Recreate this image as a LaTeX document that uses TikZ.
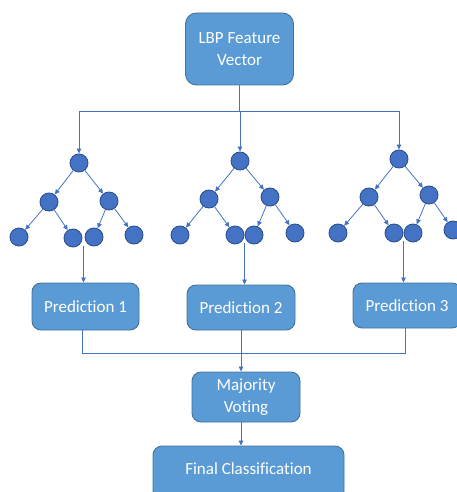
\documentclass[tikz,border=0pt]{standalone}
\usepackage{fontspec}
\setmainfont{Carlito}[Ligatures=NoCommon]
\usetikzlibrary{arrows.meta,calc}

\definecolor{boxfill}{HTML}{5B9BD5}
\definecolor{boxline}{HTML}{41719C}
\definecolor{nodefill}{HTML}{4472C4}
\definecolor{nodeline}{HTML}{2F528F}
\definecolor{wire}{HTML}{4472C4}

\tikzset{
  block/.style={draw=boxline, fill=boxfill, line width=0.9pt, rounded corners=9pt,
    text=white, font=\fontsize{17}{22}\selectfont, align=center, inner sep=0pt},
  dot/.style={circle, draw=nodeline, fill=nodefill, line width=0.9pt,
    minimum size=18pt, inner sep=0pt},
  wire/.style={draw=wire, line width=0.8pt},
  arr/.style={wire, -{Triangle[length=5pt,width=4.5pt]}}
}

\begin{document}
\begin{tikzpicture}[x=1pt, y=-1pt]

\clip (0,0) rectangle (457,492);

% input vector
\node [block, minimum width=108pt, minimum height=72pt, rounded corners=11pt]
  (lbp) at (239.5,49) {LBP Feature\\Vector};

% tree 1
\node [dot] (r1) at (79,163) {};
\node [dot] (a1) at (49,202) {};
\node [dot] (b1) at (109,201) {};
\node [dot] (l11) at (19,237) {};
\node [dot] (l12) at (73,238) {};
\node [dot] (l13) at (94,237) {};
\node [dot] (l14) at (134,235) {};

% tree 2
\node [dot] (r2) at (240,161) {};
\node [dot] (a2) at (209,199) {};
\node [dot] (b2) at (270,197) {};
\node [dot] (l21) at (180,235) {};
\node [dot] (l22) at (235,235) {};
\node [dot] (l23) at (254,235) {};
\node [dot] (l24) at (295,233) {};

% tree 3
\node [dot] (r3) at (399,159) {};
\node [dot] (a3) at (369,197) {};
\node [dot] (b3) at (429,195) {};
\node [dot] (l31) at (338,233) {};
\node [dot] (l32) at (394,233) {};
\node [dot] (l33) at (413,233) {};
\node [dot] (l34) at (453,230) {};

% branches
\foreach \t in {1,2,3} {
  \draw [arr] (r\t) -- (a\t);
  \draw [arr] (r\t) -- (b\t);
  \draw [arr] (a\t) -- (l\t1);
  \draw [arr] (a\t) -- (l\t2);
  \draw [arr] (b\t) -- (l\t3);
  \draw [arr] (b\t) -- (l\t4);
}

% predictions
\node [block, minimum width=107pt, minimum height=47pt] (p1) at (85.5,306.5) {Prediction 1};
\node [block, minimum width=108pt, minimum height=45pt] (p2) at (241,307.5) {Prediction 2};
\node [block, minimum width=108pt, minimum height=45pt] (p3) at (407,305.5) {Prediction 3};

% voting and result
\node [block, minimum width=108pt, minimum height=50pt] (maj) at (246,397) {Majority\\Voting};
\node [block, minimum width=191pt, minimum height=54pt, text height=12pt, text depth=9pt]
  (fin) at (248.5,473) {Final Classification};

% split the vector to the trees
\coordinate (split) at (0,111);
\draw [wire] (lbp.south) -- (lbp.south |- split);
\draw [wire] (r1 |- split) -- (r3 |- split);
\foreach \t in {1,2,3}
  \draw [arr] (r\t |- split) -- (r\t.north);

% tree outputs
\foreach \t in {1,2,3} {
  \coordinate (out\t) at ($(l\t2)!0.5!(l\t3) + (0,8)$);
  \draw [arr] (out\t) -- (out\t |- p\t.north);
}

% gather the predictions
\coordinate (join) at (0,353);
\coordinate (g1) at ([xshift=-3.5pt]p1.south);
\coordinate (g3) at ([xshift=-2pt]p3.south);
\draw [wire] (g1) -- (g1 |- join) -- (g3 |- join) -- (g3);
\draw [arr] (p2.south) -- (p2.south |- maj.north);
\draw [arr] (p2.south |- maj.south) -- (p2.south |- fin.north);

\end{tikzpicture}
\end{document}
